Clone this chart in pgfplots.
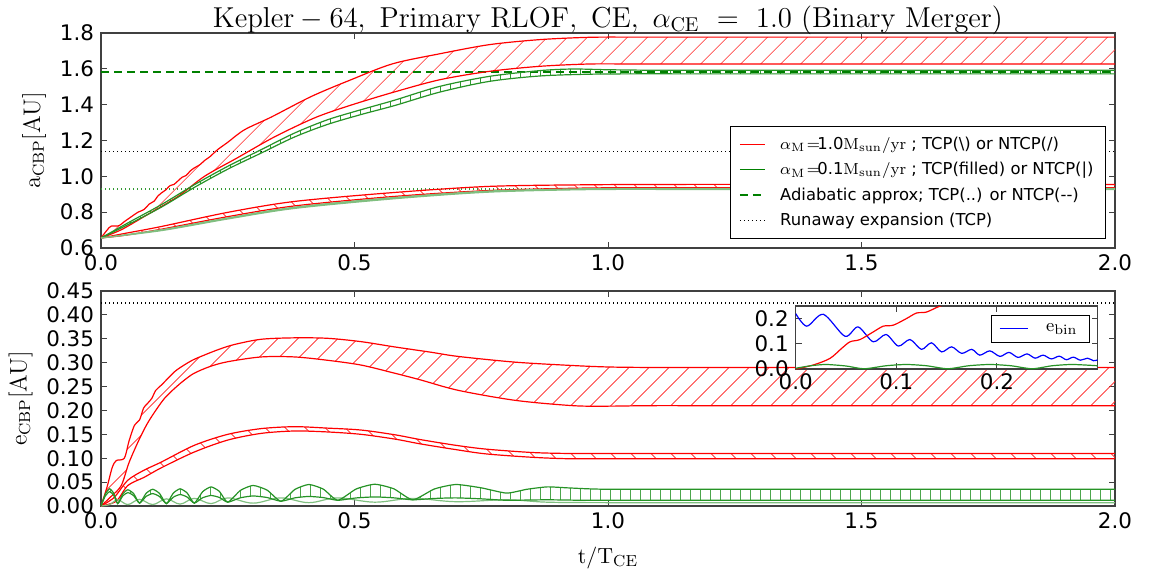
\documentclass[border=0pt]{standalone}
\usepackage[no-math]{fontspec}
\setmainfont{DejaVu Sans}
\usepackage{pgfplots}
\pgfplotsset{compat=1.18}
\usepgfplotslibrary{fillbetween}
\usetikzlibrary{patterns.meta,calc}

\definecolor{mplgreen}{rgb}{0,0.5,0}
\definecolor{lightgreen}{rgb}{0.5,0.75,0.5}

\pgfplotsset{
  panel/.style={
    scale only axis, width=507pt, height=107.5pt,
    xmin=0, xmax=2, xtick={0,0.5,1,1.5,2},
    axis line style={black!75, line width=0.6pt},
    major tick length=3pt,
    tick style={black!75, line width=0.5pt},
    tick label style={font=\fontsize{10.7}{12}\selectfont},
    /pgf/number format/assume math mode=true,
    xticklabel style={/pgf/number format/fixed, /pgf/number format/fixed zerofill, /pgf/number format/precision=1},
    ylabel style={font=\fontsize{12}{14}\selectfont},
    xlabel style={font=\fontsize{10.8}{13}\selectfont, yshift=-2pt},
  },
  hatch/.style={draw=none, forget plot, pattern={Lines[angle=#1, distance=7.4pt, line width=0.4pt]}},
  curve/.style={line width=0.6pt, forget plot, smooth, tension=0.5},
}

\begin{document}
\begin{tikzpicture}

% ---------------- top panel: a_CBP ----------------
\begin{axis}[panel, name=top, at={(0,0)}, anchor=north west,
  ymin=0.6, ymax=1.8, ytick={0.6,0.8,1,1.2,1.4,1.6,1.8},
  yticklabel style={/pgf/number format/fixed, /pgf/number format/fixed zerofill, /pgf/number format/precision=1},
  ylabel={$\mathrm{a_{CBP}[AU]}$},
  title={$\mathrm{Kepler-64,\ Primary\ RLOF,\ CE,\ \alpha_{CE}\ =\ 1.0\ (Binary\ Merger)}$},
  title style={font=\fontsize{14.5}{17}\selectfont, at={(0.5,1)}, anchor=base, yshift=-3pt},
  legend style={at={(0.991,0.042)}, anchor=south east, draw=black, fill=white,
    font=\fontsize{8.2}{9.5}\selectfont, row sep=1pt, inner xsep=4pt, inner ysep=3pt,
    cells={anchor=west}, /tikz/every odd column/.append style={column sep=5pt}},
  legend image code/.code={\draw[#1] (0pt,0pt) -- (12.5pt,0pt);},
]
\addlegendimage{red, line width=0.6pt}
\addlegendentry{$\alpha_{\mathrm{M}}\!=\!$1.0$\mathrm{M_{sun}/yr}$ ; TCP(\textbackslash) or NTCP(/)}
\addlegendimage{mplgreen, line width=0.6pt}
\addlegendentry{$\alpha_{\mathrm{M}}\!=\!$0.1$\mathrm{M_{sun}/yr}$ ; TCP(filled) or NTCP(\textbar)}
\addlegendimage{mplgreen, line width=1.1pt, dash pattern=on 4pt off 2.5pt}
\addlegendentry{Adiabatic approx; TCP(..) or NTCP({-}{-})}
\addlegendimage{black, line width=0.6pt, dash pattern=on 0.6pt off 1.4pt}
\addlegendentry{Runaway expansion (TCP)}

% reference levels
\addplot[mplgreen, line width=1.1pt, dash pattern=on 4pt off 2.5pt, forget plot] coordinates {(0,1.582) (2,1.582)};
\addplot[black, line width=0.6pt, dash pattern=on 0.6pt off 1.4pt, forget plot] coordinates {(0,1.14) (2,1.14)};
\addplot[mplgreen!80, line width=0.8pt, dash pattern=on 0.6pt off 1.4pt, forget plot] coordinates {(0,0.93) (2,0.93)};

% alpha_M = 1.0, upper band
\addplot[curve, red, name path=r1u] coordinates {
(0,0.656) (0.012,0.70) (0.02,0.722) (0.035,0.724) (0.045,0.745) (0.06,0.775) (0.073,0.80)
(0.085,0.815) (0.095,0.845) (0.105,0.862) (0.112,0.89) (0.119,0.907) (0.128,0.925) (0.136,0.948)
(0.144,0.955) (0.152,0.975) (0.16,0.995) (0.168,1.005) (0.176,1.03) (0.184,1.047) (0.195,1.065)
(0.205,1.09) (0.215,1.11) (0.23,1.149) (0.25,1.19) (0.283,1.26) (0.336,1.331) (0.415,1.446)
(0.493,1.539) (0.575,1.628) (0.668,1.684) (0.766,1.735) (0.865,1.763) (0.963,1.776) (1.05,1.777)
(1.15,1.777) (1.3,1.777) (1.5,1.777) (1.75,1.777) (2,1.777)};
\addplot[curve, red, name path=r1l] coordinates {
(0,0.656) (0.04,0.702) (0.086,0.777) (0.152,0.888) (0.204,1.0) (0.27,1.105) (0.342,1.22)
(0.421,1.326) (0.487,1.392) (0.575,1.468) (0.668,1.539) (0.766,1.586) (0.865,1.614)
(0.963,1.627) (1.05,1.627) (1.15,1.627) (1.3,1.627) (1.5,1.627) (1.75,1.627) (2,1.627)};
\addplot[hatch=45, pattern color=red!85] fill between[of=r1u and r1l];

% alpha_M = 1.0, lower band
\addplot[curve, red, name path=r2u] coordinates {
(0,0.656) (0.05,0.683) (0.119,0.72) (0.25,0.799) (0.382,0.86) (0.579,0.91) (0.766,0.944)
(0.963,0.953) (1.15,0.955) (1.4,0.955) (1.7,0.955) (2,0.955)};
\addplot[curve, red, name path=r2l] coordinates {
(0,0.656) (0.05,0.672) (0.119,0.705) (0.25,0.775) (0.382,0.835) (0.579,0.888) (0.766,0.921)
(0.963,0.935) (1.15,0.937) (1.4,0.937) (1.7,0.937) (2,0.937)};
\addplot[hatch=-45, pattern color=red!85] fill between[of=r2u and r2l];

% alpha_M = 0.1, upper band
\addplot[curve, mplgreen!85, name path=g1u] coordinates {
(0,0.656) (0.053,0.74) (0.119,0.842) (0.184,0.953) (0.25,1.056) (0.316,1.149) (0.382,1.242)
(0.447,1.316) (0.513,1.372) (0.579,1.425) (0.668,1.502) (0.766,1.558) (0.865,1.59) (0.93,1.599)
(1.0,1.595) (1.1,1.592) (1.25,1.592) (1.45,1.592) (1.7,1.592) (2,1.592)};
\addplot[curve, mplgreen!85, name path=g1l] coordinates {
(0,0.656) (0.053,0.73) (0.119,0.828) (0.184,0.938) (0.25,1.04) (0.316,1.13) (0.382,1.22)
(0.447,1.29) (0.513,1.345) (0.579,1.395) (0.668,1.47) (0.766,1.53) (0.865,1.56) (0.963,1.57)
(1.05,1.572) (1.15,1.572) (1.3,1.572) (1.5,1.572) (1.75,1.572) (2,1.572)};
\addplot[draw=none, forget plot, pattern={Lines[angle=90, distance=5pt, line width=0.4pt]}, pattern color=mplgreen!80] fill between[of=g1u and g1l];

% alpha_M = 0.1, lower band (filled)
\addplot[curve, lightgreen, name path=g2u] coordinates {
(0,0.656) (0.119,0.702) (0.25,0.768) (0.382,0.828) (0.579,0.882) (0.766,0.918) (0.963,0.931)
(1.15,0.932) (1.4,0.932) (1.7,0.932) (2,0.932)};
\addplot[curve, lightgreen, name path=g2l] coordinates {
(0,0.656) (0.119,0.697) (0.25,0.762) (0.382,0.821) (0.579,0.875) (0.766,0.912) (0.963,0.926)
(1.15,0.927) (1.4,0.927) (1.7,0.927) (2,0.927)};
\addplot[fill=lightgreen, draw=none, forget plot] fill between[of=g2u and g2l];
\end{axis}

% ---------------- bottom panel: e_CBP ----------------
\begin{axis}[panel, name=bot, at={($(top.north west)+(0pt,-129pt)$)}, anchor=north west,
  ymin=0, ymax=0.45, ytick={0,0.05,0.1,0.15,0.2,0.25,0.3,0.35,0.4,0.45},
  yticklabel style={/pgf/number format/fixed, /pgf/number format/fixed zerofill, /pgf/number format/precision=2},
  ylabel={$\mathrm{e_{CBP}[AU]}$},
  xlabel={$\mathrm{t/T_{CE}}$},
]
\addplot[black, line width=0.6pt, dash pattern=on 0.6pt off 1.4pt, forget plot] coordinates {(0,0.425) (2,0.425)};

\addplot[curve, red, name path=e1u] coordinates {
(0,0) (0.012,0.04) (0.022,0.08) (0.03,0.095) (0.046,0.10) (0.055,0.135) (0.066,0.169) (0.076,0.18)
(0.084,0.205) (0.092,0.215) (0.1,0.225) (0.108,0.242) (0.119,0.253) (0.13,0.265) (0.145,0.281)
(0.158,0.291) (0.18,0.305) (0.204,0.316) (0.233,0.328) (0.263,0.338) (0.316,0.349) (0.382,0.352)
(0.447,0.351) (0.513,0.344) (0.579,0.333) (0.65,0.322) (0.705,0.313) (0.818,0.301) (0.931,0.294)
(1.0,0.291) (1.08,0.29) (1.2,0.29) (1.4,0.29) (1.65,0.29) (2,0.29)};
\addplot[curve, red, name path=e1l] coordinates {
(0,0) (0.02,0.02) (0.04,0.043) (0.055,0.09) (0.073,0.134) (0.09,0.17) (0.106,0.197) (0.125,0.225)
(0.145,0.246) (0.165,0.264) (0.184,0.278) (0.215,0.292) (0.25,0.302) (0.316,0.312) (0.382,0.312)
(0.447,0.305) (0.513,0.295) (0.579,0.278) (0.63,0.264) (0.705,0.242) (0.818,0.221) (0.931,0.21)
(1.0,0.209) (1.08,0.21) (1.2,0.21) (1.4,0.21) (1.65,0.21) (2,0.21)};
\addplot[hatch=45, pattern color=red!85] fill between[of=e1u and e1l];

\addplot[curve, red, name path=e2u] coordinates {
(0,0) (0.026,0.018) (0.053,0.054) (0.085,0.075) (0.119,0.092) (0.184,0.127) (0.25,0.15) (0.316,0.162)
(0.382,0.166) (0.447,0.163) (0.513,0.159) (0.58,0.149) (0.63,0.139) (0.70,0.127) (0.76,0.119)
(0.85,0.112) (0.92,0.110) (1.0,0.11) (1.1,0.11) (1.25,0.11) (1.45,0.11) (1.7,0.11) (2,0.11)};
\addplot[curve, red, name path=e2l] coordinates {
(0,0) (0.03,0.01) (0.053,0.043) (0.085,0.06) (0.119,0.08) (0.184,0.113) (0.25,0.138) (0.316,0.152)
(0.382,0.157) (0.447,0.155) (0.513,0.15) (0.58,0.14) (0.63,0.130) (0.70,0.118) (0.76,0.109)
(0.85,0.102) (0.92,0.099) (1.0,0.099) (1.1,0.099) (1.25,0.099) (1.45,0.099) (1.7,0.099) (2,0.099)};
\addplot[hatch=-45, pattern color=red!85] fill between[of=e2u and e2l];

\addplot[curve, lightgreen, tension=0.6] coordinates {
(0,0) (0.017,0.003) (0.033,0.013) (0.053,0.003) (0.076,0.014) (0.102,0.003) (0.129,0.015) (0.156,0.004)
(0.184,0.016) (0.217,0.005) (0.25,0.017) (0.30,0.006) (0.355,0.017) (0.41,0.007) (0.467,0.017)
(0.54,0.008) (0.615,0.016) (0.70,0.009) (0.80,0.013) (0.88,0.008) (1.0,0.007) (1.1,0.007)
(1.25,0.007) (1.45,0.007) (1.7,0.007) (2,0.007)};
\addplot[curve, mplgreen!85, tension=0.35, name path=f1u] coordinates {
(0,0) (0.0085,0.025) (0.017,0.036) (0.025,0.027) (0.033,0.005)
(0.043,0.0255) (0.053,0.034) (0.0645,0.0258) (0.076,0.006)
(0.089,0.0265) (0.102,0.035) (0.1155,0.0262) (0.129,0.005)
(0.1425,0.0269) (0.156,0.036) (0.17,0.0272) (0.184,0.006)
(0.2005,0.030) (0.217,0.040) (0.2335,0.0306) (0.25,0.008)
(0.275,0.0327) (0.30,0.043) (0.3275,0.0333) (0.355,0.010)
(0.3825,0.0347) (0.41,0.045) (0.4385,0.0353) (0.467,0.012)
(0.5035,0.0357) (0.54,0.0455) (0.5775,0.036) (0.615,0.013)
(0.6575,0.0356) (0.70,0.045) (0.75,0.038) (0.80,0.027) (0.84,0.035) (0.88,0.040) (0.92,0.038)
(0.96,0.036) (1.0,0.035) (1.1,0.035) (1.25,0.035) (1.45,0.035) (1.7,0.035) (2,0.035)};
\addplot[curve, mplgreen!85, tension=0.35, name path=f1l] coordinates {
(0,0) (0.0085,0.021) (0.017,0.030) (0.025,0.0226) (0.033,0.005)
(0.043,0.0213) (0.053,0.028) (0.0645,0.0215) (0.076,0.006)
(0.089,0.0201) (0.102,0.026) (0.1155,0.0198) (0.129,0.005)
(0.1425,0.0184) (0.156,0.024) (0.17,0.0187) (0.184,0.006)
(0.2005,0.0173) (0.217,0.022) (0.2335,0.0179) (0.25,0.008)
(0.275,0.0172) (0.30,0.021) (0.3275,0.0178) (0.355,0.010)
(0.3825,0.0171) (0.41,0.020) (0.4385,0.0176) (0.467,0.012)
(0.5035,0.0169) (0.54,0.019) (0.5775,0.0171) (0.615,0.013)
(0.6575,0.0158) (0.70,0.017) (0.75,0.015) (0.80,0.012) (0.88,0.013) (0.95,0.012) (1.05,0.012)
(1.15,0.012) (1.3,0.012) (1.5,0.012) (1.75,0.012) (2,0.012)};
\addplot[draw=none, forget plot, pattern={Lines[angle=90, distance=5pt, line width=0.4pt]}, pattern color=mplgreen!70] fill between[of=f1u and f1l];
\end{axis}

% ---------------- inset: e_bin ----------------
\begin{axis}[name=ins, at={($(bot.north west)+(347.35pt,-7.5pt)$)}, anchor=north west,
  scale only axis, width=150.9pt, height=31.5pt,
  xmin=0, xmax=0.3, ymin=0, ymax=0.25, xtick={0,0.1,0.2}, ytick={0,0.1,0.2},
  axis background/.style={fill=white},
  axis line style={black!75, line width=0.6pt},
  major tick length=3pt,
  tick style={black!75, line width=0.5pt},
  tick label style={font=\fontsize{10.7}{12}\selectfont},
  /pgf/number format/assume math mode=true,
  ticklabel style={/pgf/number format/fixed, /pgf/number format/fixed zerofill, /pgf/number format/precision=1},
  xticklabel style={yshift=1pt},
  legend style={at={(0.975,0.857)}, anchor=north east, draw=black, fill=white,
    font=\fontsize{9.5}{11}\selectfont, inner xsep=4pt, inner ysep=2pt,
    /tikz/every odd column/.append style={column sep=7pt}},
  legend image code/.code={\draw[#1] (0pt,0pt) -- (14pt,0pt);},
]
\addplot[blue, line width=0.6pt, smooth, tension=0.5] coordinates {
(0,0.22) (0.011,0.17) (0.0275,0.217) (0.049,0.13) (0.062,0.167) (0.077,0.108) (0.0898,0.137)
(0.102,0.091) (0.1136,0.117) (0.125,0.078) (0.135,0.104) (0.145,0.068) (0.155,0.088) (0.165,0.062)
(0.175,0.078) (0.183,0.055) (0.193,0.072) (0.203,0.05) (0.212,0.066) (0.221,0.046) (0.23,0.06)
(0.238,0.043) (0.246,0.055) (0.254,0.04) (0.262,0.051) (0.269,0.037) (0.276,0.047) (0.283,0.035)
(0.29,0.043) (0.296,0.033) (0.3,0.036)};
\addlegendentry{$\mathrm{e_{bin}}$}
\addplot[red, line width=0.6pt, smooth, tension=0.5, forget plot] coordinates {
(0,0.0) (0.0175,0.016) (0.034,0.042) (0.0457,0.082) (0.054,0.108) (0.064,0.117) (0.077,0.147)
(0.087,0.17) (0.097,0.174) (0.11,0.2) (0.12,0.222) (0.13,0.226) (0.143,0.249) (0.16,0.27)};
\addplot[mplgreen!85, line width=0.6pt, smooth, tension=0.4, forget plot] coordinates {
(0,0.003) (0.015,0.013) (0.03,0.018) (0.05,0.012) (0.068,0.001) (0.09,0.013) (0.11,0.018)
(0.13,0.013) (0.151,0.001) (0.172,0.013) (0.193,0.018) (0.214,0.013) (0.235,0.001) (0.255,0.013)
(0.275,0.018) (0.3,0.013)};
\end{axis}

\pgfresetboundingbox
\path ($(top.north west)+(-50.5pt,16.5pt)$) rectangle ($(top.north west)+(524pt,-268pt)$);
\end{tikzpicture}
\end{document}
